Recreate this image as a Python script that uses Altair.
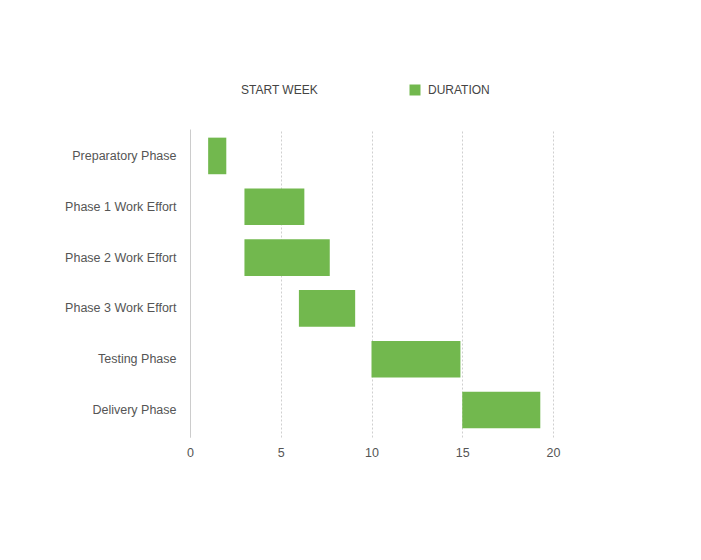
import altair as alt
import pandas as pd

tasks = ["Preparatory Phase", "Phase 1 Work Effort", "Phase 2 Work Effort",
         "Phase 3 Work Effort", "Testing Phase", "Delivery Phase"]
start_week = [1, 3, 3, 6, 10, 15]
duration = [1, 3.3, 4.7, 3.1, 4.9, 4.3]
series = ["START WEEK", "DURATION"]
x_ticks = [0, 5, 10, 15, 20]

rows = []
for t, s, d in zip(tasks, start_week, duration):
    rows.append({"task": t, "series": series[0], "value": s, "ord": 0})
    rows.append({"task": t, "series": series[1], "value": d, "ord": 1})
df = pd.DataFrame(rows)

FONT = "Liberation Sans"

chart = alt.Chart(df).mark_bar().encode(
    y=alt.Y("task:N", sort=tasks, title=None,
            scale=alt.Scale(paddingInner=0.28, paddingOuter=0.17),
            axis=alt.Axis(ticks=False, domain=True, domainColor="#cccccc",
                          labelPadding=14, labelFontSize=12.5, labelColor="#555555",
                          labelFont=FONT, grid=False)),
    x=alt.X("value:Q", stack="zero", title=None,
            scale=alt.Scale(domain=[0, 20], nice=False),
            axis=alt.Axis(values=x_ticks, ticks=False, domain=False,
                          grid=True, gridColor="#cfcfcf", gridDash=[2, 2],
                          labelFlush=False,
                          labelPadding=9, labelFontSize=12.5, labelColor="#555555",
                          labelFont=FONT)),
    color=alt.Color("series:N",
                    scale=alt.Scale(domain=series, range=["transparent", "#72b84e"]),
                    legend=alt.Legend(title=None, orient="none", direction="horizontal",
                                      legendX=32, legendY=-45, padding=0,
                                      symbolType="square", symbolSize=121,
                                      symbolStrokeWidth=0,
                                      labelOffset=7, columnPadding=91,
                                      labelFontSize=12, labelColor="#444444",
                                      labelFont=FONT)),
    order=alt.Order("ord:Q"),
).properties(
    width=363, height=308,
    autosize=alt.AutoSizeParams(type="none"),
    padding={"left": 182, "top": 121, "right": 140, "bottom": 115},
    background="white",
).configure_view(stroke=None)

chart.save("out.html", embed_options={"renderer": "svg", "actions": False})
